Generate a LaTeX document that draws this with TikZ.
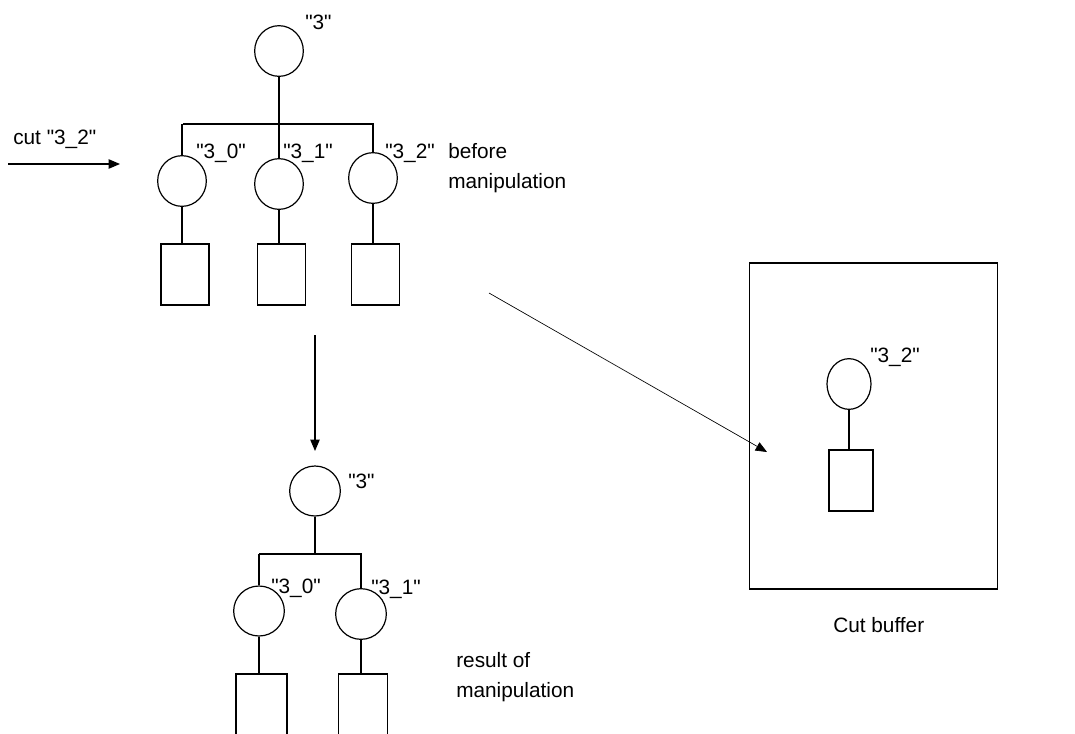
\documentclass[tikz,border=0pt]{standalone}
\usepackage{fontspec}
\setmainfont{Liberation Sans}[Ligatures=TeXOff]
\usetikzlibrary{shapes.geometric,arrows.meta}
\newcommand\dq{\char34\relax}
\begin{document}
\begin{tikzpicture}[x=0.75pt,y=-0.75pt,
  ln/.style={line width=0.9pt},
  circ/.style={draw,ln,shape=ellipse,inner sep=0pt,minimum width=36.5pt,minimum height=38pt},
  leaf/.style={draw,ln,rectangle,inner sep=0pt,minimum width=36pt,minimum height=45.75pt},
  lbl/.style={inner sep=0pt,anchor=base west,font=\fontsize{15.6pt}{18pt}\selectfont},
  arr/.style={ln,-{Triangle[length=8.5pt,width=7pt]}}]
\useasboundingbox (0,0) rectangle (1075,733);
\clip (0,0) rectangle (1075,733);
% ---------- top tree ----------
\node[circ] (r1) at (279,51) {};
\coordinate (bar1l) at (183,124);
\coordinate (bar1r) at (374,124);
\node[circ] (a0) at (182,181) {};
\node[circ] (a1) at (279,184) {};
\node[circ] (a2) at (373,178) {};
\node[leaf] (ab0) at (185,274.5) {};
\node[leaf] (ab1) at (281.3,274.5) {};
\node[leaf] (ab2) at (375.2,274.5) {};
\draw[ln] (r1.south) -- (r1.south |- bar1l);
\draw[ln] (bar1l) -- (bar1r);
\draw[ln] (a0.north |- bar1l) -- (a0.north);
\draw[ln] (a1.north |- bar1l) -- (a1.north);
\draw[ln] (a2.north |- bar1l) -- (a2.north);
\draw[ln] (a0.south) -- (a0.south |- ab0.north);
\draw[ln] (a1.south) -- (a1.south |- ab1.north);
\draw[ln] (a2.south) -- (a2.south |- ab2.north);
\node[lbl] (t3) at (305,29) {\dq3\dq};
\node[lbl] (t30) at (196,158) {\dq3\_0\dq};
\node[lbl] (t31) at (283,158) {\dq3\_1\dq};
\node[lbl] (t32) at (385,158) {\dq3\_2\dq};
\node[lbl] (tb1) at (448,158) {before};
\node[lbl] (tb2) at (448,188) {manipulation};
% cut arrow
\node[lbl] (tcut) at (13,144) {cut \dq3\_2\dq};
\coordinate (cs) at (8,164);
\coordinate (ce) at (120,164);
\draw[arr] (cs) -- (ce);
% down arrow
\coordinate (ds) at (315,335);
\coordinate (de) at (315,451);
\draw[arr] (ds) -- (de);
% ---------- bottom tree ----------
\node[circ,minimum width=38pt,minimum height=37.5pt] (r2) at (315,491) {};
\coordinate (bar2l) at (259,554);
\coordinate (bar2r) at (362,554);
\node[circ,minimum width=38pt,minimum height=37.5pt] (d0) at (259,611) {};
\node[circ,minimum width=38pt,minimum height=38pt] (d1) at (361,614) {};
\node[leaf,minimum width=38.25pt,minimum height=64.5pt] (db0) at (261.5,717) {};
\node[leaf,minimum width=37pt,minimum height=64.5pt] (db1) at (363,717) {};
\draw[ln] (r2.south) -- (r2.south |- bar2l);
\draw[ln] (bar2l) -- (bar2r);
\draw[ln] (d0.north |- bar2l) -- (d0.north);
\draw[ln] (d1.north |- bar2l) -- (d1.north);
\draw[ln] (d0.south) -- (d0.south |- db0.north);
\draw[ln] (d1.south) -- (d1.south |- db1.north);
\node[lbl] (u3) at (348,488) {\dq3\dq};
\node[lbl] (u30) at (271,593) {\dq3\_0\dq};
\node[lbl] (u31) at (371,594) {\dq3\_1\dq};
\node[lbl] (tr1) at (456,667) {result of};
\node[lbl] (tr2) at (456,697) {manipulation};
% ---------- cut buffer ----------
\node[draw,ln,rectangle,inner sep=0pt,minimum width=186.5pt,minimum height=244.5pt] (buf) at (873.5,426) {};
\node[circ,minimum width=33pt,minimum height=38pt] (f) at (849,384) {};
\node[leaf,minimum width=33pt,minimum height=45.75pt] (fb) at (851,480.5) {};
\draw[ln] (f.south) -- (f.south |- fb.north);
\node[lbl] (v32) at (870,362) {\dq3\_2\dq};
\node[lbl] (tcb) at (833,632) {Cut buffer};
% diagonal arrow
\coordinate (gs) at (489,293);
\coordinate (ge) at (767,452);
\draw[line width=0.5pt,-{Triangle[length=8.5pt,width=7pt]}] (gs) -- (ge);
\end{tikzpicture}
\end{document}
